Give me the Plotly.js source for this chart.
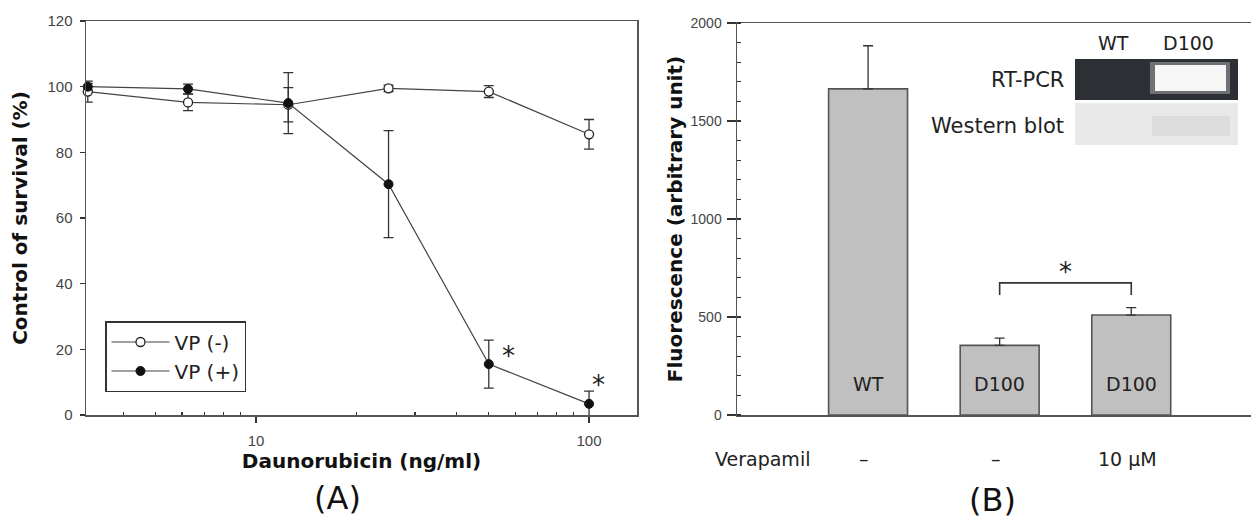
<!DOCTYPE html>
<html><head><meta charset="utf-8">
<script src="https://cdn.plot.ly/plotly-3.0.1.min.js"></script>
<style>html,body{margin:0;padding:0;background:#fff}</style>
</head><body><div id="chart" style="width:1251px;height:524px"></div>
<script>
// ---- data ----
const doses = [3.125, 6.25, 12.5, 25, 50, 100];
const vpMinus = [98.5, 95.2, 94.5, 99.5, 98.5, 85.5];
const vpMinusErr = [3.2, 2.5, 5.2, 1.0, 1.8, 4.5];
const vpPlus = [100, 99.3, 95, 70.3, 15.5, 3.4];
const vpPlusErr = [1.0, 1.5, 9.3, 16.3, 7.3, 3.9];
const seriesNames = ['VP (-)', 'VP (+)'];
const sigA = [50, 100];            // doses marked significant
const sigAy = [18.9, 10.1];
const groups = ['WT', 'D100', 'D100'];
const fluor = [1664, 355, 510];
const fluorErr = [220, 37, 38];
const verapamil = ['–', '–', '10 μM'];
const xTickVals = [10, 100];
const xMinorVals = [4, 5, 6, 7, 8, 9, 20, 30, 40, 50, 60, 70, 80, 90];
const yTicksA = [0, 20, 40, 60, 80, 100, 120];
const yTicksB = [0, 500, 1000, 1500, 2000];
const insetCols = ['WT', 'D100'];
const insetRows = ['RT-PCR', 'Western blot'];

// ---- layout helpers ----
const W = 1251, H = 524;
const X = p => p / W, Y = p => 1 - p / H;
const TXT = 'DejaVu Sans, Liberation Sans, Arial, sans-serif';
const TICK = 'Liberation Sans, Arial, sans-serif';
const barIdx = groups.map((_, i) => i);

const traces = [
  {
    x: doses, y: vpMinus, name: seriesNames[0], type: 'scatter', mode: 'lines+markers',
    xaxis: 'x', yaxis: 'y', cliponaxis: false,
    line: {color: '#444', width: 1.2},
    marker: {symbol: 'circle', size: 9, color: '#fff', line: {color: '#222', width: 1.3}},
    error_y: {type: 'data', array: vpMinusErr, color: '#333', thickness: 1.3, width: 5}
  },
  {
    x: doses, y: vpPlus, name: seriesNames[1], type: 'scatter', mode: 'lines+markers',
    xaxis: 'x', yaxis: 'y', cliponaxis: false,
    line: {color: '#444', width: 1.2},
    marker: {symbol: 'circle', size: 9, color: '#111', line: {color: '#111', width: 1}},
    error_y: {type: 'data', array: vpPlusErr, color: '#333', thickness: 1.3, width: 5}
  },
  {
    x: barIdx, y: fluor, type: 'bar', xaxis: 'x2', yaxis: 'y2', width: 0.6, showlegend: false,
    marker: {color: '#c0c0c0', line: {color: '#555', width: 1.6}},
    error_y: {type: 'data', symmetric: false, array: fluorErr, arrayminus: fluorErr.map(() => 0),
              color: '#333', thickness: 1.3, width: 5}
  }
];

const ann = (o) => Object.assign({showarrow: false, xanchor: 'center', yanchor: 'middle'}, o);
const annotations = [];
sigA.forEach((d, i) => annotations.push(ann({
  xref: 'x', yref: 'y', x: Math.log10(d) + 0.06 - i * 0.033, y: sigAy[i] - 1, text: '*',
  font: {family: TXT, size: 26, color: '#222'}
})));
groups.forEach((g, i) => annotations.push(ann({
  xref: 'x2', yref: 'y2', x: i, y: 156, text: g,
  font: {family: TXT, size: 19, color: '#222'}
})));
verapamil.forEach((v, i) => annotations.push(ann({
  xref: 'x2', yref: 'paper', x: i - 0.03, y: Y(459), text: v,
  font: {family: TXT, size: 19, color: '#222'}
})));
annotations.push(ann({xref: 'paper', yref: 'paper', x: X(763), y: Y(459), text: 'Verapamil',
  font: {family: TXT, size: 19, color: '#222'}}));
annotations.push(ann({xref: 'x2', yref: 'y2', x: 1.5, y: 730, text: '*',
  font: {family: TXT, size: 26, color: '#222'}}));
annotations.push(ann({xref: 'paper', yref: 'paper', x: X(337), y: Y(498), text: '(A)',
  font: {family: TXT, size: 32, color: '#111'}}));
annotations.push(ann({xref: 'paper', yref: 'paper', x: X(992), y: Y(500), text: '(B)',
  font: {family: TXT, size: 32, color: '#111'}}));
// inset labels
[1113, 1188].forEach((cx, i) => annotations.push(ann({xref: 'paper', yref: 'paper', x: X(cx), y: Y(43),
  text: insetCols[i], font: {family: TXT, size: 19, color: '#222'}})));
[80, 126].forEach((cy, i) => annotations.push(ann({xref: 'paper', yref: 'paper', x: X(1066), y: Y(cy),
  xanchor: 'right', text: insetRows[i], font: {family: TXT, size: 21, color: '#222'}})));

const shapes = [
  // significance bracket (panel B)
  {type: 'path', xref: 'x2', yref: 'y2', path: 'M1,612 L1,674 L2,674 L2,612', line: {color: '#333', width: 1.6}},
  // inset gel pictures
  {type: 'rect', xref: 'paper', yref: 'paper', x0: X(1075), x1: X(1238), y0: Y(100), y1: Y(59),
   fillcolor: '#2c3034', line: {width: 0}},
  {type: 'rect', xref: 'paper', yref: 'paper', x0: X(1150), x1: X(1230), y0: Y(94), y1: Y(62),
   fillcolor: '#8a8c8e', line: {width: 0}, opacity: 0.7},
  {type: 'rect', xref: 'paper', yref: 'paper', x0: X(1155), x1: X(1226), y0: Y(91), y1: Y(65),
   fillcolor: '#f6f6f6', line: {width: 0}},
  {type: 'rect', xref: 'paper', yref: 'paper', x0: X(1075), x1: X(1238), y0: Y(145), y1: Y(103),
   fillcolor: '#e9e9e9', line: {width: 0}},
  {type: 'rect', xref: 'paper', yref: 'paper', x0: X(1152), x1: X(1230), y0: Y(136), y1: Y(116),
   fillcolor: '#d6d6d6', line: {width: 0}, opacity: 0.7}
];

const axLine = {showline: true, linecolor: '#555', linewidth: 1.5, showgrid: false, zeroline: false};
const layout = {
  width: W, height: H, margin: {l: 0, r: 0, t: 0, b: 0},
  paper_bgcolor: '#fff', plot_bgcolor: '#fff', showlegend: true,
  font: {family: TXT, color: '#222'},
  xaxis: Object.assign({}, axLine, {
    domain: [X(86), X(637)], anchor: 'y', type: 'log', range: [0.4895, 2.144],
    tickmode: 'array', tickvals: xTickVals, ticktext: xTickVals.map(String),
    ticks: 'outside', ticklen: 6, tickcolor: '#333', tickwidth: 1.3, mirror: true,
    tickfont: {family: TICK, size: 15, color: '#444'}, ticklabelstandoff: 5,
    minor: {tickmode: 'array', tickvals: xMinorVals, ticks: 'inside', ticklen: 3, tickcolor: '#333', showgrid: false},
    title: {text: '<b>Daunorubicin (ng/ml)</b>', font: {family: TXT, size: 20, color: '#111'}, standoff: 1}
  }),
  yaxis: Object.assign({}, axLine, {
    domain: [Y(415), Y(21)], anchor: 'x', range: [0, 120],
    tickmode: 'array', tickvals: yTicksA, ticks: 'outside', ticklen: 5, tickcolor: '#333', tickwidth: 1.3,
    mirror: true, tickfont: {family: TICK, size: 15, color: '#444'}, ticklabelstandoff: 4,
    title: {text: '<b>Control of survival (%)</b>', font: {family: TXT, size: 20, color: '#111'}, standoff: 14}
  }),
  xaxis2: Object.assign({}, axLine, {
    domain: [X(737), 1], anchor: 'y2', range: [-0.996, 2.91], showticklabels: false, ticks: '', mirror: true
  }),
  yaxis2: Object.assign({}, axLine, {
    domain: [Y(415), Y(23)], anchor: 'x2', range: [0, 2000],
    tickmode: 'array', tickvals: yTicksB, ticks: 'outside', ticklen: 9, tickcolor: '#333', tickwidth: 1.3,
    tickfont: {family: TICK, size: 14, color: '#444'}, ticklabelstandoff: 2,
    minor: {dtick: 100, ticks: 'inside', ticklen: 4, tickcolor: '#333', showgrid: false},
    title: {text: '<b>Fluorescence (arbitrary unit)</b>', font: {family: TXT, size: 20, color: '#111'}, standoff: 2}
  }),
  legend: {x: X(105), y: Y(321), xanchor: 'left', yanchor: 'top', bgcolor: '#fff',
           bordercolor: '#333', borderwidth: 1.5, font: {family: TXT, size: 20, color: '#222'},
           itemwidth: 58, tracegroupgap: 0},
  annotations: annotations,
  shapes: shapes
};

Plotly.newPlot('chart', traces, layout, {displayModeBar: false, staticPlot: true});
</script></body></html>
